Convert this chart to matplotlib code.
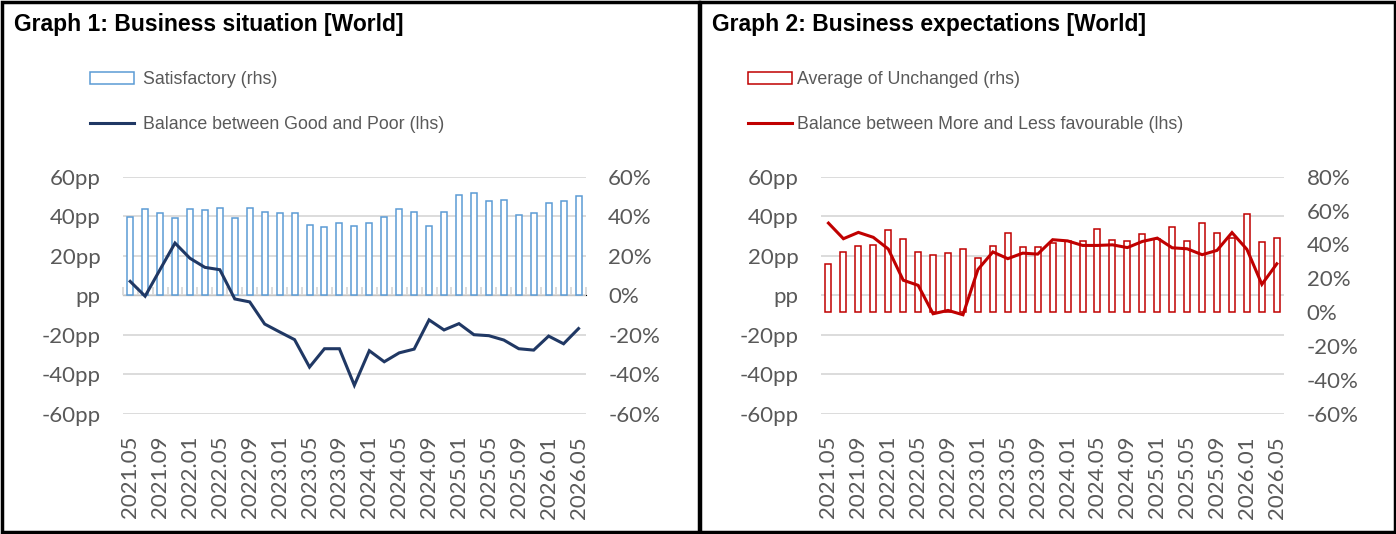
import matplotlib
matplotlib.use("Agg")
import matplotlib.pyplot as plt
from matplotlib import font_manager
from matplotlib.patches import Rectangle
from matplotlib.ticker import FixedLocator, FuncFormatter, MultipleLocator

# ---- data (bi-monthly survey waves) ----
periods = ['2021.05', '2021.07', '2021.09', '2021.11', '2022.01', '2022.03', '2022.05', '2022.07',
           '2022.09', '2022.11', '2023.01', '2023.03', '2023.05', '2023.07', '2023.09', '2023.11',
           '2024.01', '2024.03', '2024.05', '2024.07', '2024.09', '2024.11', '2025.01', '2025.03',
           '2025.05', '2025.07', '2025.09', '2025.11', '2026.01', '2026.03', '2026.05']

# Graph 1
satisfactory = [39.5, 43.5, 41.5, 39.0, 43.5, 43.0, 44.0, 39.0, 44.0, 42.0, 41.5, 41.5, 35.3, 34.3, 36.5, 35.0,
                36.5, 39.5, 43.5, 42.0, 35.0, 42.0, 50.6, 51.6, 47.6, 48.1, 40.5, 41.5, 46.6, 47.6, 50.1]
bal_good_poor = [7.0, -0.5, 13.0, 26.4, 18.7, 14.1, 12.9, -1.9, -3.4, -14.6, -18.6, -22.5, -36.4, -27.1, -27.1, -45.6,
                 -28.1, -33.7, -29.2, -27.3, -12.5, -17.6, -14.4, -20.0, -20.5, -22.7, -27.1, -27.8, -20.7, -24.6, -16.9]

# Graph 2
unchanged = [28.6, 35.7, 39.2, 39.8, 48.7, 43.4, 35.7, 33.9, 35.1, 37.4, 32.1, 39.2, 46.5, 38.6, 38.6, 40.6,
             42.0, 42.2, 49.3, 42.6, 42.2, 45.9, 43.0, 50.4, 42.2, 52.4, 46.9, 43.5, 57.8, 41.6, 43.6]
bal_more_less = [36.5, 28.6, 31.8, 29.3, 23.4, 7.6, 5.0, -9.4, -7.7, -9.9, 13.0, 21.9, 18.5, 21.3, 20.8, 28.1,
                 27.5, 25.2, 25.2, 25.5, 24.1, 27.2, 28.9, 24.0, 23.5, 20.5, 22.7, 31.7, 23.2, 5.5, 15.9]

# ---- fonts ----
names = {f.name for f in font_manager.fontManager.ttflist}
has_narrow = 'Liberation Sans Narrow' in names
title_font = 'Liberation Sans Narrow' if has_narrow else 'Liberation Sans'
title_size = 19 if has_narrow else 16.5
legend_font = 'Liberation Sans Narrow' if has_narrow else 'Liberation Sans'
legend_size = 15 if has_narrow else 12.8
tick_font = 'Lato'
tick_size = 16
gray_txt = '#595959'
grid_col = '#D9D9D9'

W, H = 1396, 534
fig = plt.figure(figsize=(W / 100, H / 100), dpi=100)
fig.patch.set_facecolor('white')

x = list(range(len(periods)))
label_idx = list(range(0, len(periods), 2))


def px(xp, yp):
    return xp / W, 1 - yp / H


def make_panel(left_px, title, bars, bar_col, bar_label, line, line_col, line_label, rlim, rstep,
               axis_ticks, legend_x, textpad):
    x0, _ = px(left_px, 0)
    ax = fig.add_axes([x0, 120.3 / H, 463.3 / W, 237.0 / H])
    ax.set_xlim(-0.5, len(periods) - 0.5)
    ax.set_ylim(-60, 60)
    ax.yaxis.set_major_locator(MultipleLocator(20))
    ax.yaxis.set_major_formatter(FuncFormatter(lambda v, p: 'pp' if abs(v) < 1e-9 else f'{v:.0f}pp'))
    ax.grid(axis='y', color=grid_col, linewidth=1.3)
    ax.set_axisbelow(True)
    for s in ax.spines.values():
        s.set_visible(False)
    ax.xaxis.set_major_locator(FixedLocator(label_idx))
    ax.set_xticklabels([periods[i] for i in label_idx], rotation=90)
    ax.tick_params(axis='x', length=0, pad=16, labelcolor=gray_txt)
    ax.tick_params(axis='y', length=0, pad=16, labelcolor=gray_txt)
    for lab in ax.get_xticklabels() + ax.get_yticklabels():
        lab.set_fontfamily(tick_font)
        lab.set_fontsize(tick_size)

    if axis_ticks:
        sec = ax.secondary_xaxis(0.5)
        sec.spines['bottom'].set_color(grid_col)
        sec.spines['bottom'].set_linewidth(1.3)
        sec.set_xticks([])
        sec.xaxis.set_minor_locator(FixedLocator([i - 0.5 for i in range(len(periods) + 1)]))
        sec.tick_params(axis='x', which='minor', length=6, width=1.3, color=grid_col, direction='out')

    ax2 = ax.twinx()
    b = ax2.bar(x, bars, width=0.4, facecolor='white', edgecolor=bar_col, linewidth=1.1, label=bar_label)
    ln, = ax2.plot(x, line, color=line_col, linewidth=2.2, transform=ax.transData, label=line_label,
                   solid_joinstyle='miter', zorder=5)
    ax2.set_ylim(*rlim)
    ax2.set_xlim(-0.5, len(periods) - 0.5)
    ax2.yaxis.set_major_locator(MultipleLocator(rstep))
    ax2.yaxis.set_major_formatter(FuncFormatter(lambda v, p: f'{v:.0f}%'))
    ax2.tick_params(axis='y', length=0, pad=16, labelcolor=gray_txt)
    for lab in ax2.get_yticklabels():
        lab.set_fontfamily(tick_font)
        lab.set_fontsize(tick_size)
    for s in ax2.spines.values():
        s.set_visible(False)

    tx, ty = px(left_px - 108.7, 31.5)
    fig.text(tx, ty, title, fontfamily=title_font, fontweight='bold', fontsize=title_size,
             va='baseline', ha='left', color='black')

    lx, ly = px(legend_x, 71.5)
    fig.legend(handles=[b, ln], loc='upper left', bbox_to_anchor=(lx, ly), frameon=False,
               borderpad=0, borderaxespad=0, handlelength=2.45, handleheight=0.65,
               handletextpad=textpad, labelspacing=1.55,
               prop={'family': legend_font, 'size': legend_size}, labelcolor=gray_txt)
    return ax, ax2


make_panel(122.7, 'Graph 1: Business situation [World]', satisfactory, '#5B9BD5', 'Satisfactory (rhs)',
           bal_good_poor, '#203864', 'Balance between Good and Poor (lhs)', (-60, 60), 20, True, 90, 0.55)
make_panel(821.0, 'Graph 2: Business expectations [World]', unchanged, '#C00000', 'Average of Unchanged (rhs)',
           bal_more_less, '#C00000', 'Balance between More and Less favourable (lhs)', (-60, 80), 20, False, 748, 0.3)

# panel frames
for x_left, width in [(1.5, 697.5), (699.5, 695.0)]:
    fx, fy = px(x_left, 531.5)
    fig.add_artist(Rectangle((fx, fy), width / W, 530.0 / H, transform=fig.transFigure,
                             fill=False, edgecolor='black', linewidth=2.5))

fig.savefig('out.png', dpi=100, facecolor='white')
